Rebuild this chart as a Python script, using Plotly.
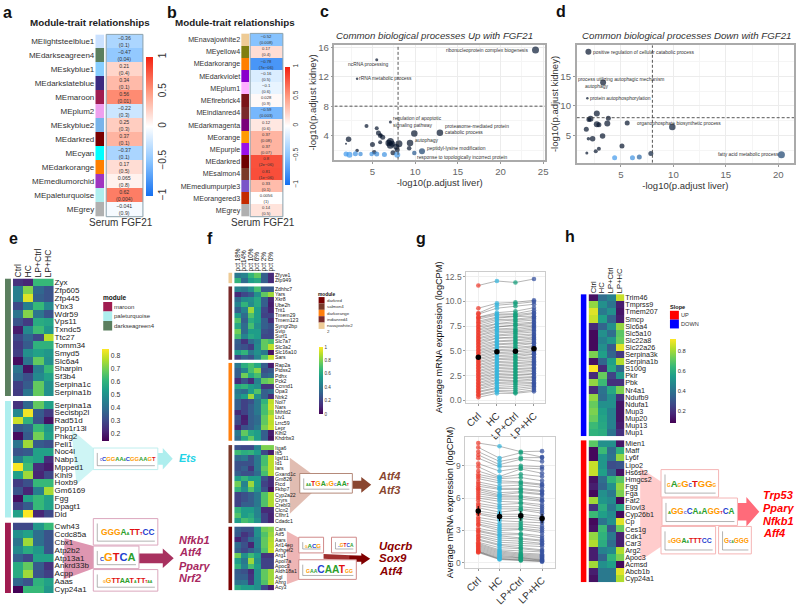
import plotly.graph_objects as go

W, H = 800, 606
FONT = "Liberation Sans"

# ---------- panels a / b ----------
A_MODULES = ["MElightsteelblue1","MEdarkseagreen4","MEskyblue1","MEdarkslateblue","MEmaroon","MEplum2","MEskyblue2","MEdarkred","MEcyan","MEdarkorange","MEmediumorchid","MEpaleturquoise","MEgrey"]
A_VALUES = [-0.36,-0.47,0.21,0.34,0.56,-0.22,0.25,0.37,-0.37,0.17,0.065,0.62,-0.041]
A_PVALS = ["0.1","0.04","0.4","0.1","0.01","0.3","0.3","0.1","0.1","0.5","0.8","0.004","0.9"]
A_COLORS = ["#cae1ff","#5b7f5f","#87ceff","#3b2a80","#a01c50","#eea0ee","#78b4ea","#7a0000","#00ffff","#ff7f00","#a035c0","#aeeeee","#b0b0b0"]

B_MODULES = ["MEnavajowhite2","MEyellow4","MEdarkorange","MEdarkviolet","MEplum1","MEfirebrick4","MEindianred4","MEdarkmagenta","MEorange","MEpurple","MEdarkred","MEsalmon4","MEmediumpurple3","MEorangered3","MEgrey"]
B_VALUES = [-0.52,0.17,-0.78,-0.16,-0.1,0.028,-0.59,0.12,0.37,0.37,0.8,0.81,0.33,0.0056,0.14]
B_PVALS = ["0.008","0.4","7e−06","0.5","0.6","0.9","0.003","0.6","0.08","0.07","2e−06","1e−06","0.1","1","0.5"]
B_COLORS = ["#eecb95","#7f7f10","#ff7f00","#8a00cc","#ffb0ff","#7a1518","#7a2a2a","#7a007a","#ff9a00","#9a10e8","#6e0000","#7a3a2a","#7a55c8","#c42a00","#b0b0b0"]

BWR = [[0,"#1570f0"],[0.25,"#8cc6ff"],[0.5,"#ffffff"],[0.75,"#ff9a80"],[1,"#f5200f"]]

# ---------- panel c ----------
C_X = [24.1,5.5,3.2,7.1,4.3,5.5,9.9,12.9,2.2,1.9,5.0,5.7,5.9,6.2,5.9,7.1,7.1,8.1,9.4,9.3,3.2,7.9,7.4,5.2,10.8,9.9,1.9,2.3,3.0,3.6,4.9,5.5,6.4,7.9,6.9,7.3,7.8,6.0]
C_Y = [15.6,14.3,11.7,5.85,5.3,5.0,4.3,4.4,3.5,2.9,2.8,4.35,4.0,3.8,3.1,3.2,2.7,2.9,3.0,2.3,2.0,2.1,1.7,1.75,1.9,1.65,1.5,1.4,1.55,1.5,1.5,1.5,1.45,1.4,3.0,2.9,2.5,4.1]
C_SIZE = [7,3,2.5,3,4,4,6.5,6.5,5.5,2,5,5,4.5,5,4,7,7,7,6.5,4.5,3.5,5,5,4.5,6,4.5,5,6,5,4.5,4.5,5,5,6,6.5,6,6,3.5]
C_SHADE = [0.05,0,0,0,0,0,0,0,0,0,0,0,0,0,0,0,0,0,0,0,0,0,0.05,0.05,0.35,0.5,1,1,0.95,0.9,0.95,0.9,0.95,1,0,0,0,0]
C_LABELS = ["ribonucleoprotein complex biogenesis","ncRNA processing","rRNA metabolic process","regulation of apoptotic","signaling pathway","proteasome-mediated protein","catabolic process","autophagy","peptidyl-lysine modification","response to topologically incorrect protein"]

# ---------- panel d ----------
D_X = [1.9,3.3,1.8,2.7,2.1,3.8,5.6,3.7,2.7,2.9,1.7,3.25,2.3,1.9,5.1,2.9,2.6,1.75,7.85,9.9,20.3,4.4,6.1,6.75,1.95]
D_Y = [19.2,14.0,11.3,8.7,7.8,7.9,7.1,7.0,6.9,6.8,6.05,4.9,4.4,4.4,3.2,2.7,2.3,2.0,1.9,6.4,1.7,1.2,1.2,1.3,7.7]
D_SIZE = [6,6,2.5,6,6,5,5,6,6,5,5,5.5,5.5,3.5,5,4,4,3,5,6.5,7,5,5,5,5]
D_SHADE = [0,0,0,0,0,0,0,0,0,0,0,0,0,0,0,0,0,0,0.1,0.05,0.35,1,0.95,0.6,0]
D_LABELS = ["positive regulation of cellular catabolic process","process utilizing autophagic mechanism","autophagy","protein autophosphorylation","organophosphate biosynthetic process","fatty acid metabolic process"]

# ---------- panel e ----------
E_COLS = ["Ctrl","HC","LP+Ctrl","LP+HC"]
E_GENES_1 = ["Zyx","Zfp605","Zfp445","Ybx3","Wdr59","Vps11","Txndc5","Ttc27","Tomm34","Smyd5","Slc6a4","Sharpin","Sf3b4","Serpina1c","Serpina1b"]
E_VALUES_1 = [[.25,.22,.62,.62],[.45,.72,.38,.33],[.45,.82,.36,.33],[.3,.45,.62,.48],[.42,.72,.42,.33],[.33,.27,.58,.56],[.2,.48,.63,.52],[.3,.38,.3,.78],[.27,.35,.6,.6],[.28,.5,.55,.52],[.17,.42,.68,.5],[.42,.18,.45,.62],[.38,.32,.48,.55],[.28,.35,.68,.5],[.27,.42,.68,.5]]
E_GENES_2 = ["Serpina1a","Secisbp2l","Rad51d","Ppp1r13l","Phkg2","Peli1","Noc4l","Nabp1","Mpped1","Klhl9","Hoxb9","Gm6169","Fgg","Dpagt1","Dld"]
E_VALUES_2 = [[.25,.38,.68,.55],[.48,.84,.35,.27],[.8,.6,.33,.18],[.35,.38,.62,.52],[.17,.35,.7,.55],[.42,.75,.35,.32],[.33,.35,.55,.55],[.45,.58,.55,.24],[.85,.63,.24,.2],[.55,.75,.22,.3],[.27,.32,.62,.62],[.33,.22,.45,.76],[.17,.55,.62,.55],[.28,.35,.62,.55],[.55,.85,.22,.3]]
E_GENES_3 = ["Cwh43","Ccdc85a","Cbx1","Atp2b2","Atp13a1","Ankrd33b","Acpp","Aaas","Cyp24a1"]
E_VALUES_3 = [[.3,.3,.52,.62],[.5,.55,.4,.33],[.42,.75,.4,.33],[.48,.58,.52,.33],[.36,.3,.55,.55],[.58,.68,.35,.25],[.58,.75,.33,.28],[.38,.33,.6,.55],[.15,.62,.62,.52]]
E_MODULE_NAMES = ["maroon","paleturquoise","darkseagreen4"]
E_MODULE_COLORS = ["#a01c50","#aeeeee","#5b7f5f"]

# ---------- panel f ----------
F_COLS = ["pct 18%","pct14%","pct 10%","pct 6%","pct 2%","pct 0%"]
F_GENES_0 = ["Zfyve1","Zfp949"]
F_VALUES_0 = [[.4,.45,.65,.75,.3,.12],[.65,.35,.55,.6,.3,.12]]
F_GENES_1 = ["Zdhhc7","Yars","Xkr8","Ube2h","Trit1","Tmem29","Tmem123","Syngr2bp","Svip","Surf1","Slc7a7","Slc3a2","Slc16a10","Sars"]
F_VALUES_1 = [[.45,.4,.5,.7,.28,.28],[.12,.22,.28,.5,.75,.85],[.35,.48,.5,.6,.3,.1],[.45,.65,.48,.6,.3,.08],[.3,.45,.85,.55,.22,.1],[.55,.35,.72,.55,.2,.2],[.72,.3,.62,.55,.3,.12],[.6,.35,.7,.5,.3,.25],[.78,.35,.55,.55,.25,.22],[.7,.45,.6,.55,.22,.22],[.3,.15,.35,.45,.75,.7],[.28,.25,.18,.48,.75,.9],[.55,.65,.4,.5,.4,.05],[.2,.3,.25,.45,.72,.92]]
F_GENES_2 = ["Rap2a","Ptdss2","Pdhx","Pck2","Ccnnd1","Opa3","Ntrk2","Nol7","Nars","Mthfd2","Ltv1","Lrrc59","Lepr","Klhl2","Khdrbs3"]
F_VALUES_2 = [[.4,.62,.7,.6,.3,.08],[.3,.45,.7,.82,.25,.28],[.3,.78,.6,.7,.3,.35],[.12,.25,.12,.45,.75,.8],[.6,.65,.55,.5,.15,.15],[.4,.35,.55,.72,.3,.35],[.45,.55,.85,.5,.3,.12],[.3,.2,.25,.4,.65,.9],[.3,.2,.3,.4,.7,.92],[.12,.2,.3,.4,.7,.85],[.25,.08,.3,.35,.75,.92],[.22,.1,.3,.35,.75,.9],[.1,.25,.3,.4,.8,.92],[.4,.75,.6,.55,.3,.08],[.35,.6,.75,.55,.3,.05]]
F_GENES_3 = ["Itga6","Ift5","Igsf11","Id1","Iars","Gxand1c","Gm826","Ftcd","Fkbp7","Cyp2a22","Cryrs","Crebl3","Clcn2","Cflhr1","Cdadc1"]
F_VALUES_3 = [[.25,.22,.22,.45,.8,.8],[.68,.62,.65,.55,.22,.08],[.35,.4,.25,.4,.7,.9],[.25,.25,.25,.4,.7,.9],[.25,.3,.15,.4,.75,.9],[.3,.25,.25,.35,.7,.9],[.55,.65,.55,.55,.25,.12],[.78,.45,.85,.55,.2,.12],[.65,.5,.72,.52,.25,.05],[.2,.25,.3,.4,.72,.88],[.2,.25,.3,.4,.72,.88],[.2,.3,.3,.4,.72,.88],[.65,.55,.55,.45,.12,.12],[.72,.55,.6,.45,.2,.1],[.55,.7,.65,.5,.2,.1]]
F_GENES_4 = ["Cars","Atf5","Aars","Arl14ep","Arhgef2","Arg1","Apol7a","Apoc3","Aldh18a1","Agl","Ahrg","Acy3"]
F_VALUES_4 = [[.3,.25,.25,.5,.78,.82],[.28,.15,.22,.5,.72,.85],[.1,.2,.35,.45,.75,.88],[.35,.25,.1,.45,.75,.9],[.3,.22,.3,.4,.72,.92],[.78,.5,.68,.55,.15,.15],[.55,.4,.85,.5,.2,.2],[.65,.45,.7,.55,.2,.2],[.28,.25,.12,.5,.75,.85],[.3,.3,.15,.5,.75,.85],[.38,.4,.18,.5,.72,.88],[.6,.55,.55,.5,.22,.08]]
F_MODULE_NAMES = ["darkred","salmon4","darkorange","indianred4","navajowhite2"]
F_MODULE_COLORS = ["#7a0000","#7a3a2a","#ff7f0e","#7a2a2a","#eecb95"]

# ---------- panel g ----------
G_GROUPS = ["Ctrl","HC","LP+Ctrl","LP+HC"]
G_COLORS = ["#ee3b2e","#35b5dc","#12a07c","#34509f"]
G_TOP_MEANS = [4.35,4.9,4.95,5.2]
G_TOP_ROWS = [
[11.6,12.05,11.9,12.25],[9.3,9.8,9.9,10.1],[8.8,9.6,9.75,9.95],[8.7,9.3,9.5,9.7],[8.4,8.85,9.0,9.35],[8.35,8.7,8.75,9.1],[8.2,8.6,8.65,8.85],[8.0,8.4,8.5,8.75],
[7.85,8.3,8.45,8.5],[7.7,8.15,8.2,8.4],[7.5,8.0,8.1,8.25],[7.4,7.75,7.95,8.1],[7.2,7.7,7.75,7.9],[7.1,7.45,7.6,7.8],[6.9,7.4,7.55,7.6],[6.8,7.2,7.3,7.5],
[6.6,7.1,7.15,7.35],[6.5,6.95,7.0,7.2],[6.3,6.8,6.9,7.05],[6.2,6.6,6.75,6.9],[6.0,6.5,6.6,6.7],[5.9,6.3,6.4,6.6],[5.7,6.25,6.3,6.4],[5.6,6.0,6.1,6.3],
[5.4,5.9,6.0,6.15],[5.3,5.7,5.8,6.0],[5.1,5.6,5.7,5.8],[5.0,5.4,5.5,5.75],[4.8,5.3,5.35,5.5],[4.7,5.1,5.2,5.4],[4.5,5.0,5.0,5.25],[4.4,4.8,4.9,5.0],
[4.2,4.7,4.7,4.9],[4.1,4.5,4.6,4.7],[3.9,4.4,4.4,4.65],[3.8,4.2,4.3,4.4],[3.6,4.1,4.15,4.3],[3.5,3.9,4.0,4.1],[3.3,3.8,3.8,3.95],[3.2,3.6,3.7,3.8],
[3.0,3.5,3.5,3.65],[2.9,3.3,3.4,3.5],[2.7,3.2,3.2,3.3],[2.6,3.0,3.1,3.2],[2.4,2.9,2.9,3.05],[2.3,2.7,2.8,2.9],[2.1,2.6,2.6,2.7],[2.0,2.4,2.5,2.65],
[1.8,2.3,2.3,2.4],[1.7,2.1,2.2,2.3],[1.5,2.0,2.0,2.15],[1.4,1.8,1.9,2.0],[1.2,1.7,1.75,1.8],[1.1,1.5,1.6,1.7],[0.9,1.3,1.4,1.55],[0.8,1.2,1.2,1.4],
[0.6,1.0,1.0,1.25],[0.5,0.9,0.8,1.05],[0.3,0.7,0.7,0.9]]
G_BOT_MEANS = [4.8,4.3,4.35,4.1]
G_BOT_ERRORS = [0.45,0.45,0.45,0.45]
G_BOT_ROWS = [
[11.1,10.8,10.3,10.35],[10.7,9.7,10.2,9.8],[10.3,9.4,9.75,9.75],[10.0,9.1,9.6,9.4],[9.7,8.9,9.0,8.9],[9.2,8.5,8.8,8.7],[8.9,8.0,8.7,8.3],[8.5,7.9,8.2,8.0],
[8.2,7.8,7.9,7.6],[8.0,7.6,7.5,7.3],[7.8,7.4,7.4,7.2],[7.5,7.1,7.2,7.0],[7.3,6.9,6.9,6.7],[7.1,6.8,6.8,6.6],[6.9,6.5,6.6,6.4],[6.8,6.3,6.5,6.3],
[6.6,6.2,6.2,6.0],[6.4,6.1,6.1,5.8],[6.2,5.9,5.9,5.7],[6.0,5.7,5.6,5.4],[5.8,5.4,5.5,5.2],[5.5,5.2,5.2,5.0],[5.3,5.0,5.0,4.8],[5.1,4.7,4.9,4.6],
[4.8,4.5,4.5,4.3],[4.6,4.3,4.3,4.1],[4.5,4.1,4.1,3.9],[4.2,3.9,3.8,3.7],[4.0,3.6,3.6,3.4],[3.8,3.4,3.4,3.2],[3.6,3.2,3.2,3.0],[3.5,3.0,3.1,2.8],
[3.2,2.8,2.7,2.5],[3.0,2.6,2.6,2.3],[2.9,2.5,2.3,2.1],[2.7,2.3,2.2,2.0],[2.5,2.1,2.0,1.8],[2.4,1.9,1.8,1.7],[2.2,1.7,1.6,1.5],[2.1,1.6,1.4,1.2],
[1.9,1.4,1.3,1.1],[1.8,1.2,1.1,1.0],[1.7,1.1,0.9,0.8],[1.6,1.0,0.8,0.7],[1.5,0.9,0.7,0.6],[1.4,0.8,0.6,0.5],[1.3,0.7,0.5,0.4],[1.2,0.6,0.45,0.3],
[1.1,0.5,0.4,0.25],[1.05,0.4,0.3,0.2],[1.0,0.35,0.25,0.15],[0.95,0.3,0.2,0.1]]

# ---------- panel h ----------
H_GENES_1 = ["Trim46","Tmprss9","Tmem207","Smcp","Slc6a4","Slc5a10","Slc22a8","Slc22a26","Serpina3k","Serpina1b","S100g","Pklr","Pbk","Nr4a1","Ndufb9","Ndufa1","Mup3","Mup20","Mup13","Mup1"]
H_VALUES_1 = [[.12,.38,.45,.85],[.78,.5,.4,.15],[.88,.42,.5,.13],[.85,.55,.35,.15],[.18,.35,.5,.78],[.1,.5,.38,.7],[.1,.45,.52,.72],[.1,.5,.32,.88],[.75,.55,.35,.22],[.12,.35,.55,.82],[.92,.18,.58,.35],[.18,.72,.25,.52],[.78,.65,.2,.2],[.18,.4,.58,.75],[.78,.38,.5,.2],[.72,.5,.5,.13],[.75,.55,.45,.13],[.72,.57,.45,.13],[.65,.58,.45,.15],[.62,.6,.4,.2]]
H_GENES_2 = ["Mien1","Maff","Ly6f","Lipo2","Hs6st2","Hmgcs2","Fgg","Fga","Fat2","Elovl3","Cyp26b1","Cp","Ces1g","Cdk1","Car3","Arg2","Apoc3","Acmsd","Abcb1b","Cyp24a1"]
H_VALUES_2 = [[.7,.5,.5,.13],[.1,.65,.38,.62],[.1,.52,.4,.78],[.85,.52,.28,.3],[.85,.55,.35,.12],[.12,.38,.62,.7],[.15,.35,.5,.78],[.1,.5,.42,.75],[.8,.52,.48,.1],[.2,.6,.42,.58],[.65,.55,.48,.1],[.1,.4,.5,.88],[.12,.65,.3,.72],[.78,.62,.42,.15],[.82,.6,.38,.15],[.15,.45,.48,.82],[.15,.35,.62,.75],[.8,.5,.55,.1],[.15,.42,.42,.88],[.12,.42,.42,.82]]
H_SLOPE_NAMES = ["UP","DOWN"]
H_SLOPE_COLORS = ["#ff0000","#0000ff"]

# ---------- helpers ----------
fig = go.Figure()
shapes, annos, counter = [], [], [0]
px = lambda x: x / W
py = lambda y: 1 - y / H

def axes(x0, x1, y0, y1, xa=None, ya=None):
    counter[0] += 1
    n = counter[0]
    s = "" if n == 1 else str(n)
    xd = dict(domain=[px(x0), px(x1)], anchor="y" + s, showgrid=False, zeroline=False, visible=False)
    yd = dict(domain=[py(y1), py(y0)], anchor="x" + s, showgrid=False, zeroline=False, visible=False)
    xd.update(xa or {}); yd.update(ya or {})
    fig.layout["xaxis" + s] = xd
    fig.layout["yaxis" + s] = yd
    return "x" + s, "y" + s

def text(x, y, t, size=7, color="#000", anchor="left", angle=0, bold=False, italic=False):
    if bold: t = "<b>" + t + "</b>"
    if italic: t = "<i>" + t + "</i>"
    annos.append(dict(x=px(x), y=py(y), xref="paper", yref="paper", text=t, showarrow=False, xanchor=anchor, yanchor="middle",
                      font=dict(size=size, color=color, family=FONT), textangle=angle, borderpad=0, borderwidth=0))

def poly(pts, color, layer="below", line=None, width=0):
    d = "M " + " L ".join(f"{px(x)} {py(y)}" for x, y in pts) + " Z"
    shapes.append(dict(type="path", path=d, xref="paper", yref="paper", fillcolor=color, line=dict(width=width, color=line or color), layer=layer))

def rect(x0, y0, x1, y1, fill, line=None, width=0, layer="below"):
    shapes.append(dict(type="rect", x0=px(x0), x1=px(x1), y0=py(y1), y1=py(y0), xref="paper", yref="paper", fillcolor=fill,
                       line=dict(width=width, color=line or fill), layer=layer))

def arrow(x0, xh, xt, ym, hs, hh, color):
    poly([(x0, ym-hs), (xh, ym-hs), (xh, ym-hh), (xt, ym), (xh, ym+hh), (xh, ym+hs), (x0, ym+hs)], color)

LOGO = {"A":"#2ca02c","C":"#1f3fd0","G":"#ff9a00","T":"#e01010"}
def logo(x0, y0, x1, y1, seq, border):
    rect(x0, y0, x1, y1, "#ffffff", border, 1)
    units = sum(1 if c.isupper() else .5 for c in seq)
    size = min((y1 - y0) * .8, (x1 - x0 - 9) / (.74 * units))
    t = ""
    for ch in seq:
        up = ch.upper()
        s = size if ch.isupper() else size * 0.5
        t += f'<span style="color:{LOGO.get(up,"#000")};font-size:{s:.1f}px">{up}</span>'
    text((x0 + x1) / 2 + 2, (y0 + y1) / 2, t, size=size, anchor="center", bold=True)
    for a, b, c, d in ((x0+4, x0+4, y0+5, y1-4), (x0+4, x1-3, y1-4, y1-4)):
        shapes.append(dict(type="line", x0=px(a), x1=px(b), y0=py(d), y1=py(c), xref="paper", yref="paper", line=dict(width=0.5, color="#666")))

def strip(x0, x1, y0, y1, colors, labels=None, size=7):
    n = len(colors)
    cs = [[i / max(n - 1, 1), c] for i, c in enumerate(colors)] if n > 1 else [[0, colors[0]], [1, colors[0]]]
    ya = dict(range=[n - .5, -.5])
    if labels:
        ya.update(visible=True, showline=False, tickmode="array", tickvals=list(range(n)), ticktext=labels, ticks="", ticklen=0,
                  tickfont=dict(size=size, family=FONT, color="#333"), side="left")
    xn, yn = axes(x0, x1, y0, y1, dict(range=[-.5, .5]), ya)
    fig.add_trace(go.Heatmap(z=[[i] for i in range(n)], zmin=0, zmax=max(n - 1, 1), colorscale=cs, showscale=False, hoverinfo="skip", xaxis=xn, yaxis=yn))

def block(x0, x1, y0, y1, vals, genes, cols, zmin, zmax, lab, top=None, cbar=None, topsize=7):
    ya = dict(range=[len(genes) - .5, -.5], visible=True, side="right", showline=False, ticks="", tickmode="array",
              tickvals=list(range(len(genes))), ticktext=genes, tickfont=dict(size=lab, family=FONT, color="#222"))
    xa = dict(range=[-.5, len(vals[0]) - .5])
    if top:
        xa.update(visible=True, side="top", showline=False, ticks="", tickangle=-90, tickmode="array", tickvals=list(range(len(cols))),
                  ticktext=cols, tickfont=dict(size=topsize, family=FONT, color="#222"))
    xn, yn = axes(x0, x1, y0, y1, xa, ya)
    tr = dict(z=vals, x=list(range(len(vals[0]))), y=list(range(len(genes))), zmin=zmin, zmax=zmax, colorscale="Viridis", hoverinfo="skip", xaxis=xn, yaxis=yn, showscale=False)
    if cbar:
        tr.update(showscale=True, colorbar=cbar)
    fig.add_trace(go.Heatmap(**tr))

def cb(x0, x1, y0, y1, vals, size, labels=None, angle=0, color="#333"):
    return dict(x=px(x0), xanchor="left", y=py(y0), yanchor="top", lenmode="pixels", len=y1 - y0, thicknessmode="pixels", thickness=x1 - x0,
                xpad=0, ypad=0, outlinewidth=0, tickmode="array", tickvals=vals, ticktext=labels or [str(v) for v in vals], ticks="", ticklen=1,
                tickfont=dict(size=size, family=FONT, color=color), tickangle=angle)

def trait(x0, x1, y0, y1, sx0, sx1, vals, pvals, mods, cols, size, cellsize, cbar):
    strip(sx0, sx1, y0, y1, cols, mods, size)
    xn, yn = axes(x0, x1, y0, y1, dict(range=[-.5, .5]), dict(range=[len(vals) - .5, -.5]))
    fig.add_trace(go.Heatmap(z=[[v] for v in vals], text=[[f"{str(v).replace('-','−')}<br>({p})"] for v, p in zip(vals, pvals)], texttemplate="%{text}",
                             textfont=dict(size=cellsize, family=FONT, color="#333"), zmin=-1, zmax=1, colorscale=BWR, colorbar=cbar, hoverinfo="skip", xaxis=xn, yaxis=yn))
    rect(x0, y0, x1, y1, "rgba(0,0,0,0)", "#8aa0ac", 1, "above")

def mids(t):
    step = t[1] - t[0]
    return [t[0] - step / 2] + [v + step / 2 for v in t]

def scatter_panel(x0, x1, y0, y1, xr, yr, xt, yt, X, Y, S, SH, title, tx, yanno):
    grid = dict(showgrid=True, gridcolor="#ececec", gridwidth=0.6, zeroline=False, visible=True, showline=True, linecolor="#aaa", linewidth=1.5, mirror=True,
                ticks="outside", ticklen=2, tickcolor="#999", tickfont=dict(size=9.6, family=FONT, color="#666"))
    mg = dict(showgrid=True, gridcolor="#f5f5f5", gridwidth=0.5, ticklen=0, tickmode="array")
    xa = dict(grid, range=xr, tickvals=xt, minor=dict(mg, tickvals=mids(xt)), title=dict(text="-log10(p.adjust liver)", font=dict(size=9.5, family=FONT, color="#333"), standoff=1))
    ya = dict(grid, range=yr, tickvals=yt, minor=dict(mg, tickvals=mids(yt)), title=dict(text="-log10(p.adjust kidney)", font=dict(size=9.5, family=FONT, color="#333"), standoff=0))
    xn, yn = axes(x0, x1, y0, y1, xa, ya)
    def shade(v):
        a, b = (6, 20, 44), (64, 152, 235)
        return "rgb(%d,%d,%d)" % tuple(a[i] + (b[i] - a[i]) * v for i in range(3))
    fig.add_trace(go.Scatter(x=X, y=Y, mode="markers", marker=dict(size=S, color=[shade(v) for v in SH], line=dict(width=0)), xaxis=xn, yaxis=yn, hoverinfo="skip"))
    for kw in (dict(x0=8, x1=8, y0=yr[0], y1=yr[1]), dict(x0=xr[0], x1=xr[1], y0=8, y1=8)):
        shapes.append(dict(type="line", xref=xn, yref=yn, line=dict(width=0.9, dash="3px,2px", color="#444"), layer="above", **kw))
    text(tx, 32, title, size=9.7, color="#333", anchor="left", italic=True)
    for t, zx, zy in yanno:
        text(310 + zx / 3, zy / 3, t, size=4.9, color="#333")

def lines_panel(x0, x1, y0, y1, xr, yr, yt, ytl, rows, means, errs):
    base = dict(showgrid=True, gridcolor="#efefef", gridwidth=0.6, zeroline=False, visible=True, showline=True, linecolor="#ccc", linewidth=1.2, mirror=True,
                ticks="outside", ticklen=2, tickcolor="#999", tickfont=dict(size=8.5, family=FONT, color="#666"))
    xa = dict(base, range=xr, tickvals=[0, 1, 2, 3], ticktext=G_GROUPS, tickangle=-45, tickfont=dict(size=10, family=FONT, color="#333"))
    ya = dict(base, range=yr, tickvals=yt, ticktext=ytl, title=dict(text="Average mRNA expression (logCPM)", font=dict(size=9.2, family=FONT, color="#111"), standoff=0))
    xn, yn = axes(x0, x1, y0, y1, xa, ya)
    for r in rows:
        fig.add_trace(go.Scatter(x=[0, 1, 2, 3], y=r, mode="lines", line=dict(width=0.6, color="rgba(30,30,30,.55)"), xaxis=xn, yaxis=yn, hoverinfo="skip", showlegend=False))
    for j, c in enumerate(G_COLORS):
        fig.add_trace(go.Scatter(x=[j] * len(rows), y=[r[j] for r in rows], mode="markers", marker=dict(size=4.6, color=c, opacity=.72, line=dict(width=0)), xaxis=xn, yaxis=yn, hoverinfo="skip", showlegend=False))
    fig.add_trace(go.Scatter(x=[0, 1, 2, 3], y=means, mode="markers", marker=dict(size=5.5, color="#000"), error_y=dict(type="data", array=errs, color="#000", thickness=1, width=0) if errs else None, xaxis=xn, yaxis=yn, hoverinfo="skip", showlegend=False))

# ---------- a, b ----------
trait(105, 142, 31, 217, 94, 103, A_VALUES, A_PVALS, A_MODULES, A_COLORS, 8, 5.2, cb(145, 152, 54, 193, [1, .5, 0, -.5, -1], 10, ["1","0.5","0","−0.5","−1"], -90))
trait(250, 283, 30, 217, 241, 249, B_VALUES, B_PVALS, B_MODULES, B_COLORS, 7.1, 4.2, cb(285, 290, 64, 182, [1, .5, 0, -.5, -1], 6.5, ["1","0.5","0","−0.5","−1"], -90))
text(28, 19, "Module-trait relationships", 9.8, "#222", bold=True)
text(174, 19, "Module-trait relationships", 9.8, "#222", bold=True)
text(120, 223, "Serum FGF21", 10, "#333", "center")
text(263, 223, "Serum FGF21", 10, "#333", "center")

# ---------- c, d ----------
scatter_panel(335, 547, 42, 159, [0.55, 25.2], [0.72, 16.27], [5, 10, 15, 20, 25], [4, 8, 12, 16], C_X, C_Y, C_SIZE, C_SHADE,
              "Common biological processes Up with FGF21", 337,
              list(zip(C_LABELS, [411,117,150,252,252,408,408,317,354,325], [141,184,229,351,371,375,393,417,443,469])))
scatter_panel(579, 798, 42, 162, [0.78, 21.5], [0.33, 20.33], [5, 10, 15, 20], [5, 10, 15], D_X, D_Y, D_SIZE, D_SHADE,
              "Common biological processes Down with FGF21", 584,
              list(zip(D_LABELS, [857,812,832,848,988,1235], [147,230,253,288,367,462])))

# ---------- e ----------
strip(3, 9, 280, 400, [E_MODULE_COLORS[2]])
strip(3, 9, 405, 524, [E_MODULE_COLORS[1]])
strip(3, 9, 529, 601, [E_MODULE_COLORS[0]])
block(11, 52, 280, 400, E_VALUES_1, E_GENES_1, E_COLS, .146, .854, 8, top=True, topsize=8.6, cbar=cb(101, 108, 352, 444, [.8,.7,.6,.5,.4,.3,.2], 6.8))
block(11, 52, 405, 524, E_VALUES_2, E_GENES_2, E_COLS, .146, .854, 8)
block(11, 52, 529, 601, E_VALUES_3, E_GENES_3, E_COLS, .146, .854, 8)
text(102, 299, "module", 6.5, "#111", bold=True)
for i, (n, c) in enumerate(zip(E_MODULE_NAMES, E_MODULE_COLORS)):
    rect(102, 304 + i * 9.7, 111, 313.7 + i * 9.7, c)
    text(113, 309 + i * 9.7, n, 6, "#333")
poly([(70,434),(92,453),(113,453),(113,475),(92,475),(75,490)], "rgba(174,238,238,.6)")
arrow(157, 162, 172, 464, 6, 11, "#aeeeee")
logo(92, 453, 157, 475, "cCGGAAaCGGAAGT", "#bfeeee")
text(178, 463, "Ets", 11, "#22d3e6", bold=True, italic=True)
poly([(63,545),(92,553),(92,576),(62,587)], "rgba(200,80,125,.6)")
arrow(138, 162, 173, 565.5, 5, 10, "#a8315f")
logo(92, 525, 157, 552, "GGGAaTTtCC", "#dba6bd")
logo(92, 553, 138, 576, "cGTCA", "#dba6bd")
logo(92, 577, 157, 599, "gGTTAATaTTtaa", "#dba6bd")
for t, y in zip(["Nfkb1","Atf4","Pparγ","Nrf2"], [547,559,573,586]):
    text(178, y, t, 11, "#a8285f", bold=True, italic=True)

# ---------- f ----------
for (y0, y1), c in zip([(274,285),(288,363),(366,446),(450,530),(533,598)], [F_MODULE_COLORS[4],F_MODULE_COLORS[3],F_MODULE_COLORS[2],F_MODULE_COLORS[1],F_MODULE_COLORS[0]]):
    strip(228, 232, y0, y1, [c])
block(234, 274, 274, 285, F_VALUES_0, F_GENES_0, F_COLS, 0, 1, 5.2, top=True, topsize=6.4, cbar=cb(319, 323, 350, 417, [1,.8,.6,.4,.2,0], 4.6))
block(234, 274, 288, 363, F_VALUES_1, F_GENES_1, F_COLS, 0, 1, 5.2)
block(234, 274, 366, 446, F_VALUES_2, F_GENES_2, F_COLS, 0, 1, 5.2)
block(234, 274, 450, 530, F_VALUES_3, F_GENES_3, F_COLS, 0, 1, 5.2)
block(234, 274, 533, 598, F_VALUES_4, F_GENES_4, F_COLS, 0, 1, 5.2)
text(318, 296, "module", 4.8, "#111", bold=True)
for i, (n, c) in enumerate(zip(F_MODULE_NAMES, F_MODULE_COLORS)):
    rect(319, 299 + i * 6.5, 325, 305.5 + i * 6.5, c)
    text(327, 302.3 + i * 6.5, n, 4.4, "#333")
text(327, 334, "2", 4.4, "#333")
poly([(290,463),(313,480),(313,498),(290,520)], "rgba(200,135,115,.55)")
arrow(353, 362, 372, 490.5, 4, 8, "#8a4630")
logo(300, 479, 353, 499, "aaTGAgGcAAt", "#b58a7a")
for t, y in zip(["Atf4","Atf3"], [482,496]):
    text(379, y, t, 11, "#8a4630", bold=True, italic=True)
poly([(287,538),(300,545),(300,587),(287,592)], "rgba(224,120,120,.55)")
poly([(324,561),(362,563),(362,568),(324,566)], "#a03030")
arrow(350, 362, 371, 566, 3, 6, "#800000")
logo(299, 544, 324, 560, "gACG", "#d08a8a")
logo(332, 544, 357, 560, "cGTCA", "#d08a8a")
logo(299, 567, 357, 587, "gaaCAATgg", "#d08a8a")
for t, y in zip(["Uqcrb","Sox9","Atf4"], [553,565,578]):
    text(380, y, t, 11.5, "#8b0000", bold=True, italic=True)

# ---------- g ----------
lines_panel(468, 547, 273, 407, [-0.64, 3.59], [-0.27, 13.0], [0, 2.5, 5, 7.5, 10, 12.5], ["0.0","2.5","5.0","7.5","10.0","12.5"], G_TOP_ROWS, G_TOP_MEANS, None)
lines_panel(467, 557, 442, 575, [-0.6, 3.6], [-0.45, 11.64], [0, 3, 6, 9], ["0","3","6","9"], G_BOT_ROWS, G_BOT_MEANS, G_BOT_ERRORS)

# ---------- h ----------
strip(583, 589, 296, 441, [H_SLOPE_COLORS[1]])
strip(583, 589, 445, 590, [H_SLOPE_COLORS[0]])
block(591, 627, 296, 441, H_VALUES_1, H_GENES_1, E_COLS, .08, .92, 7.2, top=True, topsize=7.6, cbar=cb(673, 679, 342, 426, [.8,.6,.4,.2], 5.8))
block(591, 627, 445, 590, H_VALUES_2, H_GENES_2, E_COLS, .08, .92, 7.2)
text(673, 309, "Slope", 5.6, "#111", bold=True)
for i, (n, c) in enumerate(zip(H_SLOPE_NAMES, H_SLOPE_COLORS)):
    rect(673, 313 + i * 9, 682, 322 + i * 9, c)
    text(684, 317.5 + i * 9, n, 5.6, "#333")
poly([(643,473),(665,488),(665,553),(643,568)], "rgba(255,176,176,.65)")
arrow(741, 750, 763, 518, 9, 15, "#ff6b7a")
logo(664, 475, 722, 503, "gAgGcTGGg", "#f5b5b5")
logo(665, 504, 741, 532, "aGGcCAaAGGtCA", "#f5b5b5")
logo(664, 533, 719, 561, "gGGAaTTTCC", "#f5b5b5")
logo(722, 533, 755, 561, "GcaGGG", "#f5b5b5")
for t, y in zip(["Trp53","Pparγ","Nfkb1","Aff4"], [501,514,527,540]):
    text(767, y, t, 11, "#ff0000", bold=True, italic=True)

# ---------- panel letters ----------
for t, x, y in [("a",1,9),("b",166,9),("c",320,8),("d",558,8),("e",7,239),("f",207,239),("g",417,239),("h",567,237)]:
    text(x, y, t, 16, "#111", bold=True)

fig.update_layout(width=W, height=H, margin=dict(l=0, r=0, t=0, b=0), paper_bgcolor="white", plot_bgcolor="white",
                  showlegend=False, shapes=shapes, annotations=annos, font=dict(family=FONT))
fig.write_html("out.html", config=dict(displayModeBar=False), post_script="document.body.style.margin='0';document.body.style.overflow='hidden';")
